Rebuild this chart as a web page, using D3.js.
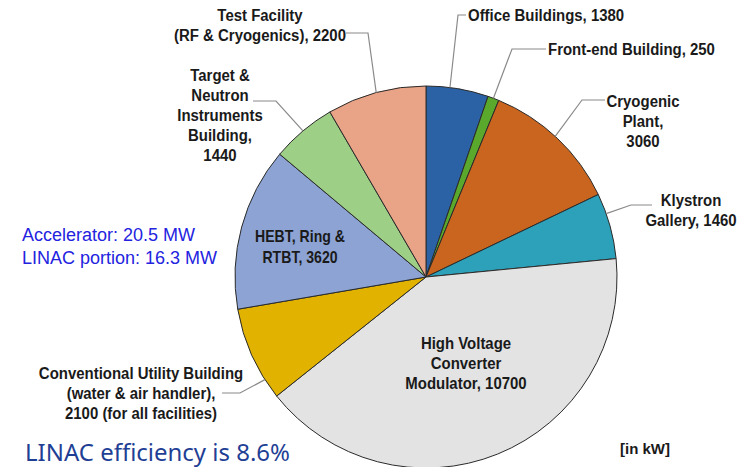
<!DOCTYPE html>
<html lang="en">
<head>
  <meta charset="utf-8">
  <script src="https://d3js.org/d3.v7.min.js"></script>
  <style>
    body { margin: 0; background: #fff; }
    .lbl { font-family: "Liberation Sans", Arial, sans-serif; font-weight: bold; fill: #1a1a1a; }
    .leader { fill: none; stroke: #8a8a8a; stroke-width: 1.2; }
  </style>
</head>
<body>
<script>

// power use by facility, in kW (clockwise from 12 o'clock)
var categories = ["Office Buildings", "Front-end Building", "Cryogenic Plant", "Klystron Gallery",
                  "High Voltage Converter Modulator", "Conventional Utility Building",
                  "HEBT, Ring & RTBT", "Target & Neutron Instruments Building",
                  "Test Facility (RF & Cryogenics)"];
var values = [1380, 250, 3060, 1460, 10700, 2100, 3620, 1440, 2200];
var colors = ["#2b62a6", "#5ba92c", "#c9651f", "#2da1b9", "#e3e3e3",
              "#e1b300", "#8ca3d3", "#9dcf86", "#e9a487"];

// label text lines, per slice
var labelLines = [
  ["Office Buildings, 1380"],
  ["Front-end Building, 250"],
  ["Cryogenic", "Plant,", "3060"],
  ["Klystron", "Gallery, 1460"],
  ["High Voltage", "Converter", "Modulator, 10700"],
  ["Conventional Utility Building", "(water & air handler),", "2100 (for all facilities)"],
  ["HEBT, Ring &", "RTBT, 3620"],
  ["Target &", "Neutron", "Instruments", "Building,", "1440"],
  ["Test Facility", "(RF & Cryogenics), 2200"]
];

var notes = ["Accelerator: 20.5 MW", "LINAC portion: 16.3 MW"];
var footer = "LINAC efficiency is 8.6%";
var unitText = "[in kW]";

var width = 745,
    height = 467,
    cx = 426,
    cy = 277,
    radius = 191;

// label placement: x, first baseline, line step, anchor, size, leader (elbow points + where on slice)
var layout = [
  {x: 468, y: 21, step: 20, anchor: "start", size: 17, lead: [[466, 15], [458, 15]], at: 0.38},
  {x: 548, y: 55, step: 20, anchor: "start", size: 17, lead: [[546, 49], [512, 49]], at: 0.5},
  {x: 643, y: 107, step: 20, anchor: "middle", size: 17, lead: [[605, 100], [582, 100]], at: 0.48},
  {x: 691, y: 206, step: 20, anchor: "middle", size: 17, lead: [[652, 205], [631, 205]], at: 0.31},
  {x: 466, y: 349, step: 20, anchor: "middle", size: 17},
  {x: 141, y: 379, step: 20, anchor: "middle", size: 17, lead: [[222, 393], [240, 393]], at: 0.21},
  {x: 300, y: 242, step: 21, anchor: "middle", size: 16},
  {x: 220, y: 81, step: 20, anchor: "middle", size: 17, lead: [[253, 101], [276, 101]], at: 0.5},
  {x: 260, y: 21, step: 20, anchor: "middle", size: 17, lead: [[346, 33], [368, 33]], at: 0.5}
];

var svg = d3.select("body").append("svg")
    .attr("width", width)
    .attr("height", height);

var pie = d3.pie().sort(null).value(function(d) { return d; });
var arcs = pie(values);

var arc = d3.arc().innerRadius(0).outerRadius(radius);

var g = svg.append("g")
    .attr("transform", "translate(" + cx + "," + cy + ")");

g.selectAll("path")
    .data(arcs)
  .enter().append("path")
    .attr("d", arc)
    .attr("fill", function(d, i) { return colors[i]; })
    .attr("stroke", "#2a2a2a")
    .attr("stroke-width", 1);

// leader lines
var line = d3.line();
arcs.forEach(function(a, i) {
  var L = layout[i];
  if (!L.lead) return;
  var ang = a.startAngle + (a.endAngle - a.startAngle) * L.at;
  var px = cx + radius * Math.sin(ang),
      py = cy - radius * Math.cos(ang);
  svg.append("path")
      .attr("class", "leader")
      .attr("d", line(L.lead.concat([[px, py]])));
});

// slice labels, slightly condensed bold
labelLines.forEach(function(lines, i) {
  var L = layout[i];
  lines.forEach(function(t, j) {
    svg.append("g")
        .attr("transform", "translate(" + L.x + "," + (L.y + j * L.step) + ") scale(0.88,1)")
      .append("text")
        .attr("class", "lbl")
        .attr("text-anchor", L.anchor)
        .style("font-size", L.size + "px")
        .text(t);
  });
});

// accelerator notes
svg.selectAll("text.note")
    .data(notes)
  .enter().append("text")
    .attr("class", "note")
    .attr("x", 22)
    .attr("y", function(d, i) { return 241 + i * 23; })
    .style("font-family", "'Liberation Sans', Arial, sans-serif")
    .style("font-size", "18px")
    .attr("fill", "#2323e0")
    .text(function(d) { return d; });

svg.append("text")
    .attr("x", 25)
    .attr("y", 461)
    .attr("textLength", 265)
    .attr("lengthAdjust", "spacingAndGlyphs")
    .style("font-family", "'Noto Sans', 'Open Sans', sans-serif")
    .style("font-size", "24px")
    .attr("fill", "#1f3f95")
    .text(footer);

svg.append("text")
    .attr("class", "lbl")
    .attr("x", 620)
    .attr("y", 454)
    .style("font-size", "15px")
    .text(unitText);

</script>
</body>
</html>
